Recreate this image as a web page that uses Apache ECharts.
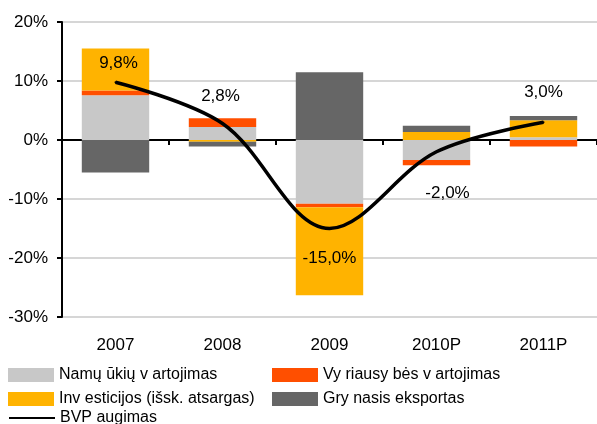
<!DOCTYPE html>
<html>
<head>
<meta charset="utf-8">
<script src="https://cdn.jsdelivr.net/npm/echarts@6/dist/echarts.min.js"></script>
<style>
  html, body { margin: 0; padding: 0; background: #fff; }
  #chart { width: 597px; height: 424px; }
</style>
</head>
<body>
<div id="chart"></div>
<script>
// metai
var years = ["2007", "2008", "2009", "2010P", "2011P"];
// BVP komponentų indėlis, proc. p.
var namuUkiu = [7.6, 2.2, -10.8, -3.4, 0.45];
var vyriausybes = [0.8, 1.5, -0.6, -0.9, -1.1];
var investicijos = [7.1, -0.3, -14.9, 1.35, 2.9];
var grynasisEksportas = [-5.5, -0.8, 11.5, 1.05, 0.7];
// BVP augimas
var bvp = [9.8, 2.8, -15.0, -2.0, 3.0];
var yTicks = [-30, -20, -10, 0, 10, 20];

var font = "Liberation Sans, Arial, sans-serif";
var narrow = "Liberation Sans Narrow, Arial Narrow, Liberation Sans, sans-serif";

// etikečių vietos prie linijos taškų
var labelPos = [
  { position: "top", offset: [3, -4] },
  { position: "top", offset: [-2, -13] },
  { position: "bottom", offset: [0, 15] },
  { position: "bottom", offset: [11, 27] },
  { position: "top", offset: [0, -15] }
];

var chart = echarts.init(document.getElementById("chart"));

function barSeries(name, data, color) {
  return {
    name: name,
    type: "bar",
    stack: "bvp",
    data: data,
    barWidth: "63%",
    itemStyle: { color: color },
    emphasis: { disabled: true }
  };
}

function legendBox(left, top, items) {
  return {
    left: left, top: top, orient: "vertical", padding: 0,
    itemWidth: 46, itemHeight: 14, itemGap: 8,
    textStyle: { fontFamily: narrow, fontSize: 16, color: "#000" },
    data: items
  };
}

chart.setOption({
  animation: false,
  grid: { left: 62, right: -5, top: 22, bottom: 107 },
  legend: [
    legendBox(8, 367, [
      { name: "Namų ūkių v artojimas", icon: "rect" },
      { name: "Inv esticijos (išsk. atsargas)", icon: "rect" }
    ]),
    legendBox(8, 410, [
      { name: "BVP augimas", itemStyle: { opacity: 0 } }
    ]),
    legendBox(272, 367, [
      { name: "Vy riausy bės v artojimas", icon: "rect" },
      { name: "Gry nasis eksportas", icon: "rect" }
    ])
  ],
  xAxis: [
    {
      type: "category",
      data: years,
      axisLine: { onZero: true, lineStyle: { color: "#000", width: 2 } },
      axisTick: { show: true, length: 5, lineStyle: { color: "#000", width: 2 } },
      axisLabel: { show: false }
    },
    {
      type: "category",
      data: years,
      position: "bottom",
      axisLine: { show: false },
      axisTick: { show: false },
      axisLabel: { fontFamily: font, fontSize: 17, color: "#000", margin: 20 }
    }
  ],
  yAxis: {
    type: "value",
    min: yTicks[0],
    max: yTicks[yTicks.length - 1],
    interval: 10,
    axisLine: { show: true, lineStyle: { color: "#000", width: 2 } },
    axisTick: { show: true, length: 5, lineStyle: { color: "#000", width: 2 } },
    axisLabel: { fontFamily: font, fontSize: 17, color: "#000", margin: 14, formatter: "{value}%" },
    splitLine: { lineStyle: { color: "#c8c8c8", width: 1.5 } }
  },
  series: [
    barSeries("Namų ūkių v artojimas", namuUkiu, "#c8c8c8"),
    barSeries("Vy riausy bės v artojimas", vyriausybes, "#ff4f00"),
    barSeries("Inv esticijos (išsk. atsargas)", investicijos, "#ffb300"),
    barSeries("Gry nasis eksportas", grynasisEksportas, "#666666"),
    {
      name: "BVP augimas",
      type: "line",
      data: bvp.map(function (v, i) {
        return { value: v, label: labelPos[i] };
      }),
      smooth: 0.35,
      symbol: "circle",
      symbolSize: 2,
      z: 5,
      itemStyle: { color: "#000" },
      lineStyle: { color: "#000", width: 3.5 },
      emphasis: { disabled: true },
      label: {
        show: true,
        fontFamily: font,
        fontSize: 17,
        color: "#000",
        formatter: function (p) {
          return p.value.toFixed(1).replace(".", ",") + "%";
        }
      }
    }
  ]
});
</script>
</body>
</html>
